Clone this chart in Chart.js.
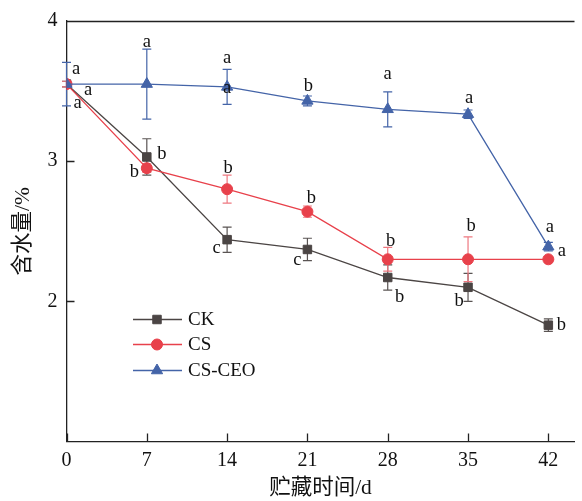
<!DOCTYPE html>
<html>
<head>
<meta charset="utf-8">
<script src="https://cdn.jsdelivr.net/npm/chart.js@4.4.1/dist/chart.umd.min.js"></script>
<style>
html,body{margin:0;padding:0;background:#fff;}
#wrap{width:582px;height:501px;position:relative;}
</style>
</head>
<body>
<div id="wrap"><canvas id="c" width="582" height="501"></canvas></div>
<script>
// ---- data ----
const days = [0, 7, 14, 21, 28, 35, 42];
const xTicks = [0, 7, 14, 21, 28, 35, 42];
const yTicks = [2, 3, 4];
const seriesNames = ['CK', 'CS', 'CS-CEO'];
const ckValues  = [3.55, 3.03, 2.44, 2.37, 2.17, 2.10, 1.83];
const ckErrors  = [0.02, 0.13, 0.09, 0.08, 0.09, 0.10, 0.045];
const csValues  = [3.55, 2.95, 2.80, 2.64, 2.30, 2.30, 2.30];
const csErrors  = [0.02, 0.03, 0.10, 0.04, 0.085, 0.16, 0.02];
const ceoValues = [3.55, 3.55, 3.53, 3.43, 3.37, 3.335, 2.39];
const ceoErrors = [0.155, 0.25, 0.125, 0.035, 0.125, 0.03, 0.03];
const ckLetters  = ['a', 'b', 'c', 'c', 'b', 'b', 'b'];
const csLetters  = ['a', 'b', 'b', 'b', 'b', 'b', 'a'];
const ceoLetters = ['a', 'a', 'a', 'b', 'a', 'a', 'a'];
const ceoLettersExtra = [null, null, 'a', null, null, null, null];
const xTitle = '贮藏时间/d';
const yTitle = '含水量/%';

// ---- styles / label placement (pixel offsets from each point) ----
const colors = { ck: '#4b4544', cs: '#e8414b', ceo: '#4464a8' };
const errColors = { ck: '#5a5453', cs: '#ee7880', ceo: '#4464a8' };
const ckOffsets  = [[21.5,11],[15,2],[-10.5,13],[-10,16],[12,24],[-9,19],[13,5]];
const csOffsets  = [[11,24],[-12.5,9],[1,-16],[4,-9],[3,-13.5],[3,-28.5],[13.5,-3.5]];
const ceoOffsets = [[9.5,-10],[0,-37],[0,-24],[1,-10],[0,-30],[1,-11.5],[1.5,-15]];
const ceoExtraOffsets = [[0,0],[0,0],[0,6],[0,0],[0,0],[0,0],[0,0]];
const serif = '"Liberation Serif", "Times New Roman", serif';
const cjk = '"Liberation Serif", "Noto Sans CJK SC", serif';

const toXY = vals => days.map((d, i) => ({ x: d, y: vals[i] }));

const errMeta = [
  { errs: ckErrors, color: errColors.ck },
  { errs: csErrors, color: errColors.cs },
  { errs: ceoErrors, color: errColors.ceo }
];
const letterMeta = [
  { letters: ckLetters, offs: ckOffsets },
  { letters: csLetters, offs: csOffsets },
  { letters: ceoLetters, offs: ceoOffsets },
  { letters: ceoLettersExtra, offs: ceoExtraOffsets, ds: 2 }
];

const errorBars = {
  id: 'errorBars',
  beforeDatasetsDraw(chart) {
    const ctx = chart.ctx, xs = chart.scales.x, ys = chart.scales.y;
    ctx.save();
    errMeta.forEach((m, di) => {
      const vals = chart.data.datasets[di].data;
      ctx.strokeStyle = m.color; ctx.lineWidth = 1.2;
      vals.forEach((p, i) => {
        const e = m.errs[i];
        const x = xs.getPixelForValue(p.x);
        const y1 = ys.getPixelForValue(p.y + e), y2 = ys.getPixelForValue(p.y - e);
        ctx.beginPath();
        ctx.moveTo(x, y1); ctx.lineTo(x, y2);
        ctx.moveTo(x - 4.5, y1); ctx.lineTo(x + 4.5, y1);
        ctx.moveTo(x - 4.5, y2); ctx.lineTo(x + 4.5, y2);
        ctx.stroke();
      });
    });
    ctx.restore();
  }
};

const frameAndTicks = {
  id: 'frameAndTicks',
  afterDraw(chart) {
    const ctx = chart.ctx, a = chart.chartArea, xs = chart.scales.x, ys = chart.scales.y;
    ctx.save();
    ctx.strokeStyle = '#222'; ctx.lineWidth = 1.3;
    ctx.beginPath();
    ctx.moveTo(a.left, a.top + 0.5); ctx.lineTo(a.right, a.top + 0.5);
    xTicks.forEach(t => {
      const x = Math.round(xs.getPixelForValue(t)) + 0.5;
      ctx.moveTo(x, a.bottom); ctx.lineTo(x, a.bottom - 8);
    });
    yTicks.forEach(t => {
      const y = Math.round(ys.getPixelForValue(t)) + 0.5;
      ctx.moveTo(a.left, y); ctx.lineTo(a.left + 8, y);
    });
    ctx.stroke();
    ctx.restore();
  }
};

const letters = {
  id: 'letters',
  afterDatasetsDraw(chart) {
    const ctx = chart.ctx, xs = chart.scales.x, ys = chart.scales.y;
    ctx.save();
    ctx.fillStyle = '#111';
    ctx.font = '18.5px ' + serif;
    ctx.textAlign = 'center';
    ctx.textBaseline = 'alphabetic';
    letterMeta.forEach((m, k) => {
      const di = m.ds !== undefined ? m.ds : k;
      const vals = chart.data.datasets[di].data;
      m.letters.forEach((L, i) => {
        if (!L) return;
        const x = xs.getPixelForValue(vals[i].x) + m.offs[i][0];
        const y = ys.getPixelForValue(vals[i].y) + m.offs[i][1];
        ctx.fillText(L, x, y);
      });
    });
    ctx.restore();
  }
};

const insideLegend = {
  id: 'insideLegend',
  afterDraw(chart) {
    const ctx = chart.ctx;
    const rows = [319.5, 344.5, 370.5];
    ctx.save();
    chart.data.datasets.forEach((ds, i) => {
      const y = rows[i];
      ctx.strokeStyle = ds.borderColor; ctx.lineWidth = 1.3;
      ctx.beginPath(); ctx.moveTo(133, y); ctx.lineTo(182, y); ctx.stroke();
      ctx.fillStyle = ds.backgroundColor; ctx.strokeStyle = ds.backgroundColor;
      ctx.lineWidth = 1;
      Chart.helpers.drawPoint(ctx, { pointStyle: ds.pointStyle, radius: ds.pointRadius, borderWidth: 1 }, 157, y);
      ctx.fillStyle = '#111';
      ctx.font = '19px ' + serif;
      ctx.textAlign = 'left'; ctx.textBaseline = 'middle';
      ctx.fillText(ds.label, 188, y + 1);
    });
    ctx.restore();
  }
};

const mk = (label, vals, color, style, r, order) => ({
  label, data: toXY(vals), borderColor: color, backgroundColor: color,
  borderWidth: 1.3, pointStyle: style, pointRadius: r, pointHoverRadius: r,
  pointBorderWidth: 1, pointBorderColor: color, pointBackgroundColor: color,
  tension: 0, order
});

new Chart(document.getElementById('c'), {
  type: 'line',
  data: {
    datasets: [
      mk(seriesNames[0], ckValues, colors.ck, 'rect', 6, 2),
      mk(seriesNames[1], csValues, colors.cs, 'circle', 5.5, 1),
      mk(seriesNames[2], ceoValues, colors.ceo, 'triangle', 6.5, 0)
    ]
  },
  options: {
    responsive: false,
    animation: false,
    devicePixelRatio: 1,
    layout: { padding: { top: 20, right: 0, left: 0, bottom: 0 } },
    plugins: { legend: { display: false }, tooltip: { enabled: false } },
    scales: {
      x: {
        type: 'linear', min: 0, max: 44.28,
        afterBuildTicks: s => { s.ticks = xTicks.map(v => ({ value: v })); },
        afterFit: s => { s.height = 59.5; },
        grid: { display: false, drawTicks: false },
        border: { display: true, color: '#222', width: 1.3 },
        ticks: { color: '#111', font: { family: serif, size: 20 }, padding: 7, maxRotation: 0, callback: v => String(v) },
        title: { display: true, text: xTitle, color: '#111', font: { family: cjk, size: 21.5 }, padding: { top: 0, bottom: 0 } }
      },
      y: {
        type: 'linear', min: 1, max: 4,
        afterBuildTicks: s => { s.ticks = yTicks.map(v => ({ value: v })); },
        afterFit: s => { s.width = 66.5; },
        grid: { display: false, drawTicks: false },
        border: { display: true, color: '#222', width: 1.3 },
        ticks: { color: '#111', font: { family: serif, size: 20 }, padding: 9, callback: v => String(v) },
        title: { display: true, text: yTitle, color: '#111', font: { family: cjk, size: 21.5 }, padding: { top: 10, bottom: 0 } }
      }
    }
  },
  plugins: [errorBars, letters, frameAndTicks, insideLegend]
});
</script>
</body>
</html>
